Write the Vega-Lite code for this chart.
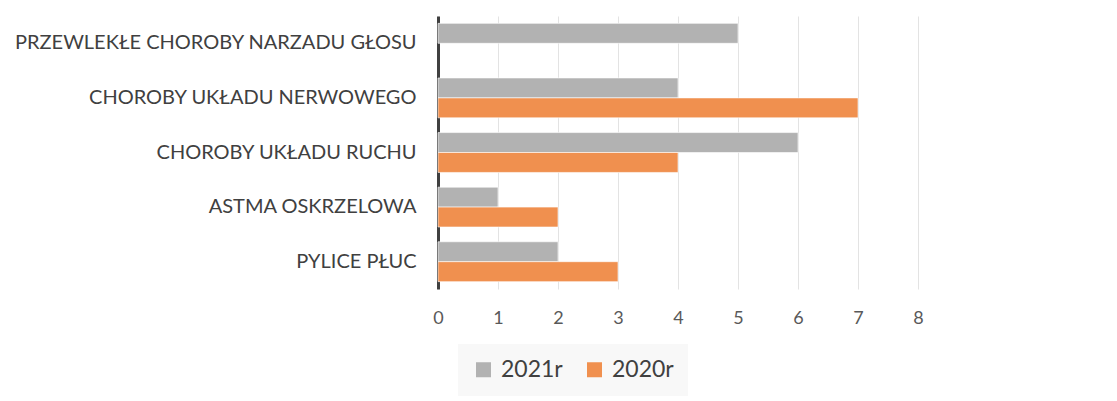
{
  "$schema": "https://vega.github.io/schema/vega-lite/v6.json",
  "width": 480,
  "height": 273,
  "autosize": {"type": "none"},
  "padding": {"left": 438, "top": 16, "right": 199, "bottom": 112},
  "background": "white",
  "config": {
    "view": {"stroke": null},
    "font": "Lato"
  },
  "data": {
    "values": [
      {"kategoria": "PRZEWLEKŁE CHOROBY NARZADU GŁOSU", "rok": "2021r", "wartosc": 5},
      {"kategoria": "CHOROBY UKŁADU NERWOWEGO", "rok": "2021r", "wartosc": 4},
      {"kategoria": "CHOROBY UKŁADU NERWOWEGO", "rok": "2020r", "wartosc": 7},
      {"kategoria": "CHOROBY UKŁADU RUCHU", "rok": "2021r", "wartosc": 6},
      {"kategoria": "CHOROBY UKŁADU RUCHU", "rok": "2020r", "wartosc": 4},
      {"kategoria": "ASTMA OSKRZELOWA", "rok": "2021r", "wartosc": 1},
      {"kategoria": "ASTMA OSKRZELOWA", "rok": "2020r", "wartosc": 2},
      {"kategoria": "PYLICE PŁUC", "rok": "2021r", "wartosc": 2},
      {"kategoria": "PYLICE PŁUC", "rok": "2020r", "wartosc": 3}
    ]
  },
  "mark": {"type": "bar", "stroke": "#ffffff", "strokeOpacity": 0.6, "strokeWidth": 1},
  "encoding": {
    "y": {
      "field": "kategoria",
      "type": "nominal",
      "sort": ["PRZEWLEKŁE CHOROBY NARZADU GŁOSU", "CHOROBY UKŁADU NERWOWEGO", "CHOROBY UKŁADU RUCHU", "ASTMA OSKRZELOWA", "PYLICE PŁUC"],
      "scale": {"paddingInner": 0.27, "paddingOuter": 0.135},
      "axis": {
        "title": null,
        "ticks": false,
        "domain": true,
        "domainColor": "#404040",
        "domainWidth": 3,
        "labelFontSize": 20,
        "labelColor": "#404040",
        "labelPadding": 22,
        "labelLimit": 0
      }
    },
    "yOffset": {
      "field": "rok",
      "type": "nominal",
      "sort": ["2021r", "2020r"],
      "scale": {"paddingInner": 0, "paddingOuter": 0}
    },
    "x": {
      "field": "wartosc",
      "type": "quantitative",
      "scale": {"domain": [0, 8], "nice": false},
      "axis": {
        "title": null,
        "values": [0, 1, 2, 3, 4, 5, 6, 7, 8],
        "domain": false,
        "ticks": false,
        "grid": true,
        "gridColor": "#e3e3e3",
        "gridWidth": 1,
        "labelFontSize": 18,
        "labelFlush": false,
        "labelColor": "#595959",
        "labelPadding": 20
      }
    },
    "color": {
      "field": "rok",
      "type": "nominal",
      "sort": ["2021r", "2020r"],
      "scale": {"domain": ["2021r", "2020r"], "range": ["#b2b2b2", "#f0904f"]},
      "legend": {
        "title": null,
        "orient": "none",
        "legendX": 20,
        "legendY": 328,
        "direction": "horizontal",
        "fillColor": "#f8f8f8",
        "padding": 14,
        "symbolType": "square",
        "symbolSize": 225,
        "symbolStrokeWidth": 0,
        "labelFontSize": 23,
        "labelColor": "#404040",
        "labelOffset": 6,
        "columnPadding": 20
      }
    }
  }
}
